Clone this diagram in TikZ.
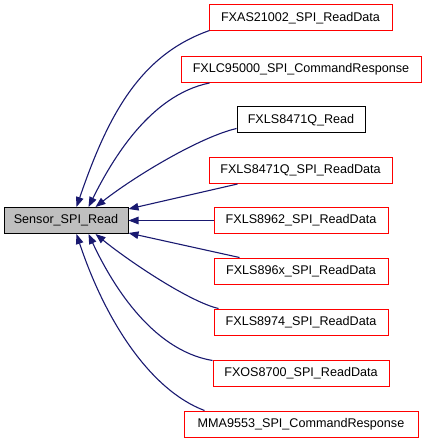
\documentclass[tikz,border=0pt]{standalone}
\usepackage{fontspec}
\setmainfont{Liberation Sans}
\usetikzlibrary{arrows.meta,calc}
\definecolor{edgecol}{RGB}{25,25,112}
\definecolor{redbox}{RGB}{255,0,0}
\definecolor{greybox}{RGB}{191,191,191}
\tikzset{
  box/.style={draw=redbox, line width=1pt, fill=white, rectangle, inner sep=0pt, minimum height=26pt, font=\fontsize{12.6}{15}\selectfont},
  blackbox/.style={box, draw=black},
  mainbox/.style={box, draw=black, fill=greybox},
  edge/.style={draw=edgecol, line width=1.1pt, -{Triangle[length=10pt,width=7.5pt]}, fill=none},
}
\begin{document}
\begin{tikzpicture}[x=1pt,y=-1pt]
\useasboundingbox (0,0) rectangle (427,443);
\node[mainbox, minimum width=124pt] (s) at (66,220.5) {Sensor\_SPI\_Read};
\node[box, minimum width=183pt] (t1) at (300.5,18) {FXAS21002\_SPI\_ReadData};
\node[box, minimum width=240pt] (t2) at (301,69.5) {FXLC95000\_SPI\_CommandResponse};
\node[blackbox, minimum width=128pt] (t3) at (301,120) {FXLS8471Q\_Read};
\node[box, minimum width=183pt] (t4) at (300.5,170.5) {FXLS8471Q\_SPI\_ReadData};
\node[box, minimum width=174pt] (t5) at (301,220.5) {FXLS8962\_SPI\_ReadData};
\node[box, minimum width=174pt] (t6) at (301,271) {FXLS896x\_SPI\_ReadData};
\node[box, minimum width=174pt] (t7) at (301,322) {FXLS8974\_SPI\_ReadData};
\node[box, minimum width=176pt] (t8) at (301,373) {FXOS8700\_SPI\_ReadData};
\node[box, minimum width=234pt] (t9) at (301,424) {MMA9553\_SPI\_CommandResponse};

\draw[edge] ($(t1.south west)+(1,-1)$) .. controls (140,55) and (108,115) .. ($(s.north west)+(73,0)$);
\draw[edge] ($(t2.south west)+(29,0)$) .. controls (150,95) and (112,160) .. ($(s.north west)+(85,0)$);
\draw[edge] ($(t3.south west)+(0,-5)$) .. controls (200,137) and (135,176) .. ($(s.north west)+(92,0)$);
\draw[edge] ($(t4.south west)+(29,0)$) -- ($(s.north east)+(0,2)$);
\draw[edge] (t5.west) -- (s.east);
\draw[edge] ($(t6.north west)+(26,0)$) -- ($(s.south east)+(0,-1)$);
\draw[edge] ($(t7.north west)+(5,0)$) .. controls (190,302) and (130,262) .. ($(s.south west)+(92,0)$);
\draw[edge] ($(t8.north west)+(0,1)$) .. controls (150,350) and (110,280) .. ($(s.south west)+(85,0)$);
\draw[edge] ($(t9.north west)+(21,0)$) .. controls (150,390) and (105,320) .. ($(s.south west)+(73,0)$);
\end{tikzpicture}
\end{document}
